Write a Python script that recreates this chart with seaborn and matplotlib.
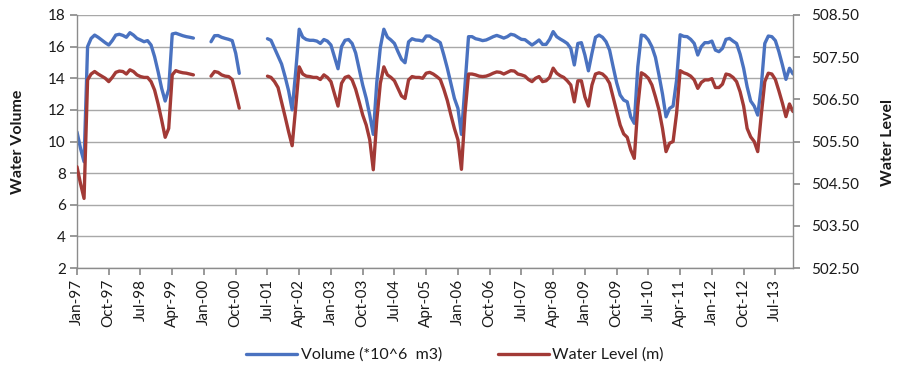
import matplotlib
matplotlib.use('Agg')
import matplotlib.pyplot as plt
from matplotlib.lines import Line2D
import seaborn as sns
import numpy as np
import pandas as pd

nan = np.nan

# monthly values, Jan-97 .. Dec-13 (one row per year)
volume = [
    10.6, 9.56, 8.72, 16.0, 16.52, 16.73, 16.59, 16.42, 16.25, 16.1, 16.38, 16.73,
    16.78, 16.71, 16.59, 16.88, 16.73, 16.52, 16.42, 16.31, 16.38, 16.1, 15.36, 14.41,
    13.36, 12.56, 13.3, 16.8, 16.85, 16.77, 16.69, 16.63, 16.59, 16.54, nan, nan,
    nan, nan, 16.31, 16.69, 16.7, 16.59, 16.52, 16.46, 16.38, 15.58, 14.31, nan,
    nan, nan, nan, nan, nan, nan, 16.5, 16.4, 15.9, 15.4, 14.9, 14.1,
    13.2, 12.0, 14.4, 17.1, 16.6, 16.45, 16.4, 16.4, 16.35, 16.2, 16.45, 16.35,
    16.1, 15.36, 14.6, 16.0, 16.4, 16.45, 16.2, 15.6, 14.6, 13.57, 12.73, 11.67,
    10.45, 13.74, 15.95, 17.1, 16.6, 16.42, 16.2, 15.68, 15.2, 14.98, 16.3, 16.5,
    16.42, 16.4, 16.35, 16.67, 16.67, 16.5, 16.4, 16.25, 15.47, 14.63, 13.68, 12.73,
    12.1, 10.45, 13.57, 16.63, 16.63, 16.5, 16.45, 16.38, 16.42, 16.52, 16.63, 16.71,
    16.63, 16.54, 16.63, 16.78, 16.73, 16.59, 16.46, 16.44, 16.27, 16.1, 16.25, 16.42,
    16.14, 16.14, 16.46, 16.95, 16.63, 16.48, 16.35, 16.2, 15.89, 14.84, 16.2, 16.25,
    15.47, 14.47, 15.58, 16.59, 16.73, 16.59, 16.31, 15.78, 14.73, 13.72, 12.94, 12.62,
    12.51, 11.56, 11.15, 14.73, 16.73, 16.68, 16.42, 15.99, 15.32, 14.2, 13.0, 11.56,
    12.09, 12.24, 13.89, 16.75, 16.65, 16.63, 16.46, 16.2, 15.47, 16.0, 16.25, 16.25,
    16.35, 15.78, 15.68, 15.89, 16.46, 16.52, 16.35, 16.2, 15.53, 14.63, 13.46, 12.56,
    12.24, 11.67, 13.46, 16.2, 16.67, 16.63, 16.38, 15.68, 14.84, 13.93, 14.63, 14.27,
]

level = [
    504.9, 504.5, 504.15, 506.96, 507.1, 507.16, 507.1, 507.05, 507.0, 506.92, 507.02, 507.14,
    507.17, 507.16, 507.1, 507.2, 507.16, 507.08, 507.04, 507.02, 507.02, 506.92, 506.72, 506.39,
    506.01, 505.6, 505.81, 507.08, 507.18, 507.15, 507.13, 507.12, 507.1, 507.08, nan, nan,
    nan, nan, 507.05, 507.16, 507.14, 507.08, 507.05, 507.04, 506.97, 506.64, 506.29, nan,
    nan, nan, nan, nan, nan, nan, 507.05, 507.02, 506.92, 506.78, 506.44, 506.09,
    505.73, 505.4, 506.3, 507.27, 507.1, 507.05, 507.04, 507.02, 507.02, 506.97, 507.08, 507.02,
    506.92, 506.63, 506.34, 506.88, 507.02, 507.05, 506.96, 506.74, 506.44, 506.13, 505.89, 505.54,
    504.83, 506.01, 506.88, 507.27, 507.08, 507.02, 506.94, 506.76, 506.58, 506.52, 506.96, 507.04,
    507.02, 507.02, 507.0, 507.12, 507.14, 507.1, 507.04, 506.97, 506.74, 506.47, 506.13, 505.81,
    505.54, 504.84, 506.17, 507.1, 507.1, 507.08, 507.05, 507.04, 507.05, 507.08, 507.12, 507.15,
    507.14, 507.1, 507.14, 507.18, 507.17, 507.1, 507.08, 507.05, 506.97, 506.92, 507.0, 507.04,
    506.92, 506.94, 507.02, 507.24, 507.12, 507.06, 507.02, 506.94, 506.84, 506.44, 506.94, 506.94,
    506.56, 506.34, 506.84, 507.1, 507.13, 507.1, 507.02, 506.88, 506.55, 506.21, 505.89, 505.68,
    505.6, 505.3, 505.1, 506.33, 507.13, 507.08, 507.0, 506.84, 506.56, 506.25, 505.81, 505.26,
    505.46, 505.5, 506.17, 507.18, 507.13, 507.1, 507.05, 506.96, 506.76, 506.9, 506.96, 506.96,
    506.99, 506.78, 506.78, 506.86, 507.1, 507.08, 507.02, 506.92, 506.68, 506.34, 505.81, 505.61,
    505.5, 505.26, 506.13, 506.92, 507.12, 507.1, 506.97, 506.7, 506.41, 506.09, 506.39, 506.21,
]

tick_labels = ['Jan-97', 'Oct-97', 'Jul-98', 'Apr-99', 'Jan-00', 'Oct-00', 'Jul-01',
               'Apr-02', 'Jan-03', 'Oct-03', 'Jul-04', 'Apr-05', 'Jan-06', 'Oct-06',
               'Jul-07', 'Apr-08', 'Jan-09', 'Oct-09', 'Jul-10', 'Apr-11', 'Jan-12',
               'Oct-12', 'Jul-13']
left_ticks = [2, 4, 6, 8, 10, 12, 14, 16, 18]
right_ticks = [502.5, 503.5, 504.5, 505.5, 506.5, 507.5, 508.5]

BLUE = '#4A72C0'
RED = '#A23A36'
GRID = '#A8A8A8'
AXIS = '#8C8C8C'
LW = 2.4

sns.set_theme(style='white')
plt.rcParams['font.family'] = ['Lato', 'DejaVu Sans']
plt.rcParams['text.color'] = '#1a1a1a'
plt.rcParams['xtick.color'] = '#1a1a1a'
plt.rcParams['ytick.color'] = '#1a1a1a'

df = pd.DataFrame({'month': np.arange(len(volume)), 'volume': volume, 'level': level})
df['seg'] = df['volume'].isna().cumsum()
df = df.dropna()

fig, ax = plt.subplots(figsize=(8.99, 3.69), dpi=100)
fig.subplots_adjust(left=77 / 899, right=793 / 899, top=1 - 15 / 369, bottom=1 - 268 / 369)
ax2 = ax.twinx()

sns.lineplot(data=df, x='month', y='volume', units='seg', estimator=None,
             color=BLUE, lw=LW, ax=ax, legend=False)
sns.lineplot(data=df, x='month', y='level', units='seg', estimator=None,
             color=RED, lw=LW, ax=ax2, legend=False)

n = len(volume)
ax.set_xlim(0, n - 1)
ax.set_ylim(2, 18)
ax2.set_ylim(502.5, 508.5)
ax.set_xticks(np.arange(len(tick_labels)) * 9)
ax.set_xticklabels(tick_labels, rotation=90, fontsize=11)
ax.set_yticks(left_ticks)
ax.set_yticklabels([str(t) for t in left_ticks], fontsize=11)
ax2.set_yticks(right_ticks)
ax2.set_yticklabels([f'{t:.2f}' for t in right_ticks], fontsize=11)

ax.yaxis.grid(True, color=GRID, lw=1.0)
ax.set_axisbelow(True)
ax2.grid(False)
ax.set_xlabel('')
ax.set_ylabel('')
ax2.set_ylabel('')

for a in (ax, ax2):
    a.spines['top'].set_visible(False)
    for s in ('left', 'right', 'bottom'):
        a.spines[s].set_color(AXIS)
        a.spines[s].set_linewidth(1.0)
ax.spines['right'].set_visible(False)
ax2.spines['left'].set_visible(False)
ax2.spines['bottom'].set_visible(False)

ax.tick_params(axis='x', bottom=True, direction='out', length=5, color=AXIS, pad=3)
ax.tick_params(axis='y', left=True, direction='out', length=5, color=AXIS, pad=3)
ax2.tick_params(axis='y', right=True, direction='out', length=5, color=AXIS, pad=8)

fig.text(18 / 899, 1 - 142 / 369, 'Water Volume', rotation=90, ha='center', va='center',
         fontsize=11.5, fontweight='bold')
fig.text(888 / 899, 1 - 142 / 369, 'Water Level', rotation=90, ha='center', va='center',
         fontsize=11.5, fontweight='bold')

handles = [Line2D([], [], color=BLUE, lw=LW), Line2D([], [], color=RED, lw=LW)]
fig.legend(handles, ['Volume (*10^6  m3)', 'Water Level (m)'], loc='center',
           bbox_to_anchor=(455 / 899, 1 - 355 / 369), ncol=2, frameon=False,
           fontsize=11.5, handlelength=3.2, handletextpad=0.2, columnspacing=3.5)

fig.savefig('out.png', dpi=100)
